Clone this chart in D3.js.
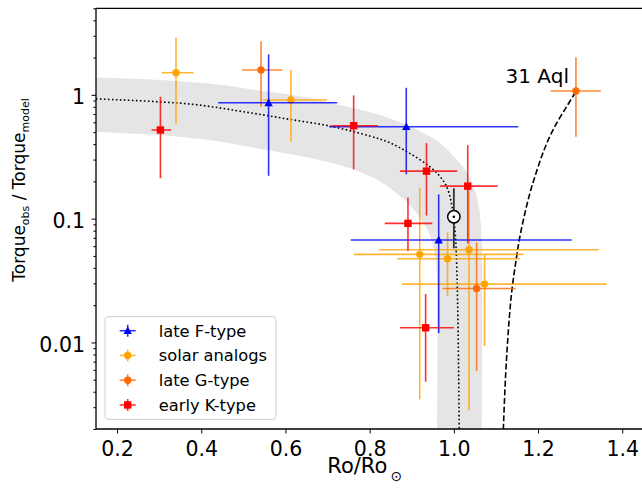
<!DOCTYPE html>
<html>
<head>
<meta charset="utf-8">
<script src="https://cdn.jsdelivr.net/npm/d3@7"></script>
<style>
  html, body { margin: 0; padding: 0; background: #fff; }
  svg { display: block; font-family: "DejaVu Sans", sans-serif; }
</style>
</head>
<body>
<svg id="chart" width="642" height="489"></svg>
<script>
// Rows: [Ro, Ro low, Ro high, torque ratio, torque low, torque high]
const lateF = [
  [0.560, 0.440, 0.723, 0.863, 0.222, 2.12],
  [0.887, 0.704, 1.153, 0.553, 0.228, 1.14],
  [0.964, 0.755, 1.280, 0.0672, 0.0119, 0.157]
];
const solarAnalogs = [
  [0.340, 0.306, 0.382, 1.508, 0.578, 2.89],
  [0.613, 0.547, 0.699, 0.908, 0.418, 1.586],
  [0.919, 0.762, 1.165, 0.0515, 0.00347, 0.178],
  [0.985, 0.865, 1.157, 0.0474, 0.0237, 0.0775],
  [1.036, 0.822, 1.344, 0.0561, 0.00284, 0.170],
  [1.073, 0.877, 1.363, 0.0296, 0.00935, 0.0515]
];
const lateG = [
  [0.542, 0.497, 0.593, 1.586, 0.80, 2.71],
  [1.054, 0.973, 1.147, 0.0273, 0.0059, 0.0644],
  [1.290, 1.230, 1.349, 1.073, 0.459, 2.01]
];
const earlyK = [
  [0.303, 0.282, 0.328, 0.520, 0.212, 0.965],
  [0.762, 0.711, 0.820, 0.563, 0.250, 0.99],
  [0.935, 0.872, 1.008, 0.242, 0.106, 0.408],
  [1.033, 0.967, 1.104, 0.183, 0.0632, 0.393],
  [0.891, 0.836, 0.949, 0.0916, 0.0549, 0.148],
  [0.933, 0.872, 1.000, 0.01315, 0.00482, 0.0246]
];
// The Sun: [Ro, torque ratio, torque low, torque high]
const sun = [1.0, 0.1036, 0.0577, 0.176];

// Model curves (Ro, torque ratio)
const modelRo = [0.150, 0.373, 0.515, 0.610, 0.705, 0.800, 0.848, 0.895, 0.943, 0.967, 0.981, 0.9905, 0.9976, 1.0036, 1.0071, 1.0102, 1.0126, 1.0128];
const modelT  = [0.927, 0.843, 0.717, 0.634, 0.560, 0.465, 0.410, 0.337, 0.263, 0.219, 0.187, 0.152, 0.113, 0.0737, 0.0385, 0.0118, 0.002, 0.0015];
const aqlRo = [1.289, 1.2677, 1.244, 1.224, 1.2083, 1.1924, 1.1805, 1.1686, 1.1568, 1.149, 1.137, 1.129, 1.1228, 1.1176, 1.1165];
const aqlT  = [1.05, 0.801, 0.589, 0.431, 0.316, 0.218, 0.160, 0.110, 0.0714, 0.0492, 0.0249, 0.0118, 0.00528, 0.002, 0.0015];

// Uncertainty band edges
const bandUpperRo = [0.150, 0.302, 0.451, 0.515, 0.634, 0.729, 0.808, 0.888, 0.967, 1.007, 1.031, 1.045, 1.055, 1.062, 1.066, 1.066];
const bandUpperT  = [1.380, 1.317, 1.200, 1.114, 0.978, 0.827, 0.713, 0.570, 0.408, 0.297, 0.238, 0.187, 0.149, 0.107, 0.0672, 0.0015];
const bandLowerRo = [0.150, 0.302, 0.451, 0.515, 0.634, 0.729, 0.800, 0.848, 0.895, 0.926, 0.943, 0.955, 0.9596, 0.960];
const bandLowerT  = [0.501, 0.473, 0.416, 0.379, 0.321, 0.271, 0.221, 0.177, 0.129, 0.0939, 0.0737, 0.0508, 0.035, 0.0015];

const xTicks = [0.2, 0.4, 0.6, 0.8, 1.0, 1.2, 1.4];
const yTicks = [0.01, 0.1, 1];
const yTickLabels = ["0.01", "0.1", "1"];
const seriesNames = ["late F-type", "solar analogs", "late G-type", "early K-type"];
const starLabel = "31 Aql";

const svg = d3.select("#chart");
const L = 96, R = 643.3, T = 8.3, B = 429;
const x = d3.scaleLinear().domain([0.15, 1.45]).range([L, R]);
const y = d3.scaleLog().domain([0.002, 5]).range([B, T]);

svg.append("defs").append("clipPath").attr("id", "plotclip")
  .append("rect").attr("x", L).attr("y", T).attr("width", R - L).attr("height", B - T);

const plot = svg.append("g").attr("clip-path", "url(#plotclip)");

// shaded band: smooth upper edge, straight join at the bottom, smooth lower edge back
const edge = d3.line().x(d => x(d[0])).y(d => y(d[1])).curve(d3.curveCatmullRom);
const upperPath = edge(bandUpperRo.map((r, i) => [r, bandUpperT[i]]));
const lowerPath = edge(bandLowerRo.map((r, i) => [r, bandLowerT[i]]).reverse()).replace(/^M/, "L");
plot.append("path")
  .attr("d", upperPath + lowerPath + "Z")
  .attr("fill", "#e5e5e5").attr("stroke", "none");

const curveLine = d3.line().x(d => x(d[0])).y(d => y(d[1])).curve(d3.curveCatmullRom);
plot.append("path")
  .attr("d", curveLine(modelRo.map((r, i) => [r, modelT[i]])))
  .attr("fill", "none").attr("stroke", "#000").attr("stroke-width", 1.6)
  .attr("stroke-dasharray", "1.6,2.4");
plot.append("path")
  .attr("d", curveLine(aqlRo.map((r, i) => [r, aqlT[i]])))
  .attr("fill", "none").attr("stroke", "#000").attr("stroke-width", 1.6)
  .attr("stroke-dasharray", "6,2.6");

// marker shapes
function drawMarker(g, shape, color, cx, cy) {
  if (shape === "tri") {
    g.append("path").attr("d", `M${cx},${cy - 4.2}L${cx + 4.2},${cy + 3.4}L${cx - 4.2},${cy + 3.4}Z`).attr("fill", color);
  } else if (shape === "circ") {
    g.append("circle").attr("cx", cx).attr("cy", cy).attr("r", 3.7).attr("fill", color);
  } else {
    g.append("rect").attr("x", cx - 3.7).attr("y", cy - 3.7).attr("width", 7.4).attr("height", 7.4).attr("fill", color);
  }
}

function drawSeries(rows, color, shape) {
  const g = plot.append("g");
  rows.forEach(d => {
    const eb = g.append("g").attr("stroke", color).attr("stroke-width", 1.6).attr("opacity", 0.8);
    eb.append("line").attr("x1", x(d[1])).attr("x2", x(d[2])).attr("y1", y(d[3])).attr("y2", y(d[3]));
    eb.append("line").attr("x1", x(d[0])).attr("x2", x(d[0])).attr("y1", y(d[4])).attr("y2", y(d[5]));
  });
  rows.forEach(d => drawMarker(g, shape, color, x(d[0]), y(d[3])));
}

const colors = { F: "#0000ff", S: "#ffa500", G: "#ff6a00", K: "#ff0000" };
drawSeries(solarAnalogs, colors.S, "circ");
drawSeries(lateG, colors.G, "circ");
drawSeries(lateF, colors.F, "tri");
drawSeries(earlyK, colors.K, "sq");

// the Sun
plot.append("line")
  .attr("x1", x(sun[0])).attr("x2", x(sun[0])).attr("y1", y(sun[2])).attr("y2", y(sun[3]))
  .attr("stroke", "#333").attr("stroke-width", 1.8);
plot.append("circle").attr("cx", x(sun[0])).attr("cy", y(sun[1])).attr("r", 6.2)
  .attr("fill", "#fff").attr("stroke", "#000").attr("stroke-width", 1.5);
plot.append("circle").attr("cx", x(sun[0])).attr("cy", y(sun[1])).attr("r", 1.3).attr("fill", "#000");

// 31 Aql label
svg.append("text").attr("x", x(lateG[2][0]) - 7).attr("y", y(lateG[2][3]) - 8)
  .attr("text-anchor", "end").attr("font-size", 20).attr("fill", "#000").text(starLabel);

// axes
const xAxis = svg.append("g").attr("transform", `translate(0,${B})`)
  .call(d3.axisBottom(x).tickValues(xTicks).tickFormat(d3.format(".1f")).tickSize(4.5).tickPadding(7.6));
const yAxis = svg.append("g").attr("transform", `translate(${L},0)`)
  .call(d3.axisLeft(y).tickValues(yTicks).tickFormat((d, i) => yTickLabels[i]).tickSize(4.5).tickPadding(6.5));
const minor = [];
[0.001, 0.01, 0.1, 1].forEach(p => { for (let k = 2; k <= 9; k++) { const v = k * p; if (v >= 0.002 && v <= 5) minor.push(v); } });
svg.append("g").attr("transform", `translate(${L},0)`)
  .call(d3.axisLeft(y).tickValues(minor).tickFormat("").tickSize(2.6));
svg.selectAll(".domain").remove();
svg.selectAll(".tick line").attr("stroke", "#000").attr("stroke-width", 1);
svg.selectAll(".tick text").attr("font-family", "DejaVu Sans").attr("font-size", 20.5).attr("fill", "#000");
yAxis.selectAll(".tick text").attr("dy", "0.44em");

// spines
const sp = svg.append("g").attr("stroke", "#000").attr("stroke-width", 1.3).attr("fill", "none");
sp.append("line").attr("x1", L).attr("x2", L).attr("y1", T).attr("y2", B);
sp.append("line").attr("x1", L).attr("x2", R).attr("y1", B).attr("y2", B);
sp.append("line").attr("x1", L).attr("x2", R).attr("y1", T).attr("y2", T);
sp.append("line").attr("x1", R).attr("x2", R).attr("y1", T).attr("y2", B);

// axis labels
const xl = svg.append("text").attr("x", 327.3).attr("y", 472.5).attr("font-size", 21).attr("fill", "#000");
xl.append("tspan").text("Ro/Ro");
xl.append("tspan").attr("dx", 3).attr("dy", 8).attr("font-size", 14).text("\u2299");

const yl = svg.append("text").attr("transform", "translate(25,190) rotate(-90)")
  .attr("text-anchor", "middle").attr("font-size", 17).attr("fill", "#000");
yl.append("tspan").text("Torque");
yl.append("tspan").attr("dy", 4).attr("font-size", 11).text("obs");
yl.append("tspan").attr("dy", -4).text(" / Torque");
yl.append("tspan").attr("dy", 4).attr("font-size", 11).text("model");

// legend
const lg = svg.append("g");
lg.append("rect").attr("x", 105).attr("y", 316.7).attr("width", 171).attr("height", 102.6).attr("rx", 3)
  .attr("fill", "#fff").attr("fill-opacity", 0.8).attr("stroke", "#cccccc").attr("stroke-width", 1);
const legendItems = [
  [seriesNames[0], colors.F, "tri"],
  [seriesNames[1], colors.S, "circ"],
  [seriesNames[2], colors.G, "circ"],
  [seriesNames[3], colors.K, "sq"]
];
legendItems.forEach((it, i) => {
  const cy = 330.7 + i * 24.75, cx = 127.7;
  const g = lg.append("g");
  const eb = g.append("g").attr("stroke", it[1]).attr("stroke-width", 1.6).attr("opacity", 0.8);
  eb.append("line").attr("x1", cx - 8).attr("x2", cx + 8).attr("y1", cy).attr("y2", cy);
  eb.append("line").attr("x1", cx).attr("x2", cx).attr("y1", cy - 6).attr("y2", cy + 6);
  drawMarker(g, it[2], it[1], cx, cy);
  g.append("text").attr("x", 158.7).attr("y", cy).attr("dy", "0.36em")
    .attr("font-size", 16.3).attr("fill", "#000").text(it[0]);
});
</script>
</body>
</html>
